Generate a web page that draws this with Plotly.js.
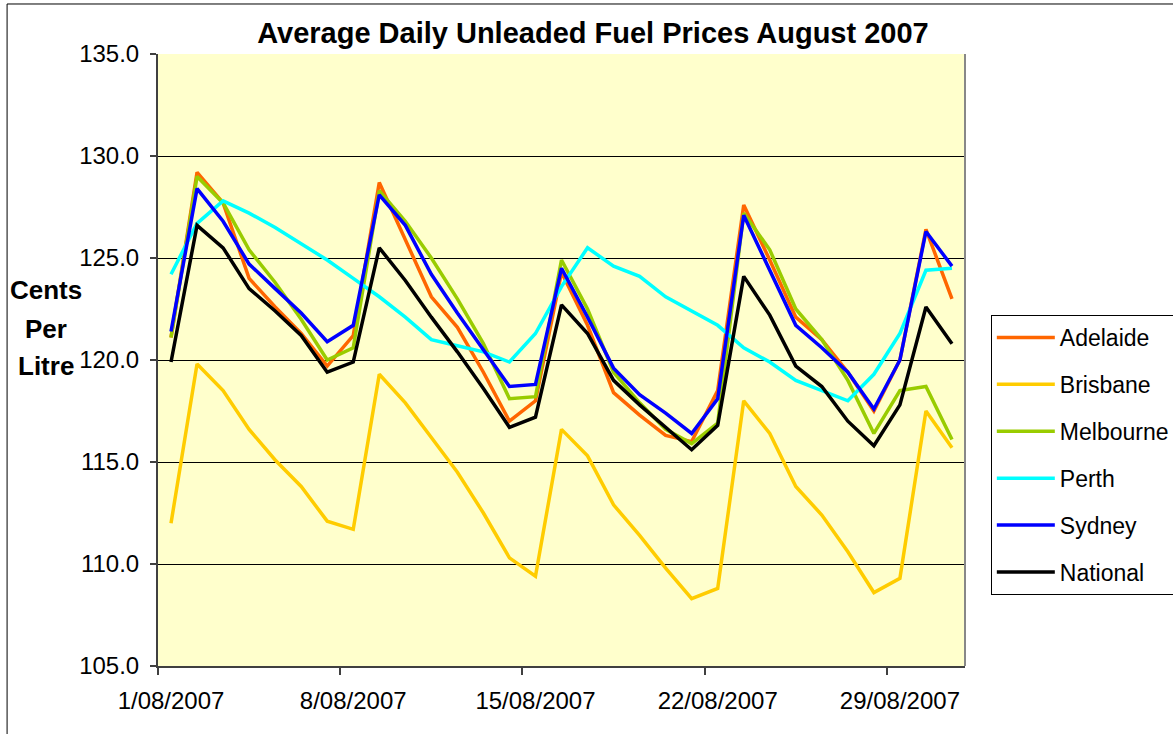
<!DOCTYPE html>
<html>
<head>
<meta charset="utf-8">
<script src="https://cdn.plot.ly/plotly-3.0.1.min.js"></script>
<style>
html,body{margin:0;padding:0;background:#fff;}
#chart{width:1173px;height:734px;}
</style>
</head>
<body>
<div id="chart"></div>
<script>
// Days of August 2007
var days = [1,2,3,4,5,6,7,8,9,10,11,12,13,14,15,16,17,18,19,20,21,22,23,24,25,26,27,28,29,30,31];
var tickDays = [1,8,15,22,29];
var tickLabels = ["1/08/2007","8/08/2007","15/08/2007","22/08/2007","29/08/2007"];
var tickBoundaries = [0.5,7.5,14.5,21.5,28.5];

var adelaide  = [121.1,129.2,127.7,124.0,122.6,121.3,119.7,121.2,128.7,125.9,123.1,121.6,119.4,117.0,118.0,124.3,121.7,118.4,117.3,116.3,116.0,118.5,127.6,124.9,122.1,121.0,119.4,117.5,120.0,126.4,123.0];
var brisbane  = [112.0,119.8,118.5,116.6,115.1,113.8,112.1,111.7,119.3,117.9,116.2,114.5,112.5,110.3,109.4,116.6,115.3,112.9,111.4,109.8,108.3,108.8,118.0,116.4,113.8,112.4,110.6,108.6,109.3,117.5,115.7];
var melbourne = [121.1,129.0,127.7,125.4,123.8,122.0,120.0,120.6,128.3,126.8,125.0,123.0,120.8,118.1,118.2,124.9,122.5,119.4,117.9,116.6,115.9,116.9,127.2,125.4,122.5,121.0,119.0,116.4,118.5,118.7,116.1];
var perth     = [124.2,126.7,127.8,127.2,126.5,125.7,124.9,124.0,123.1,122.1,121.0,120.7,120.4,119.9,121.3,123.6,125.5,124.6,124.1,123.1,122.4,121.7,120.6,119.9,119.0,118.5,118.0,119.3,121.3,124.4,124.5];
var sydney    = [121.4,128.4,126.8,124.7,123.5,122.3,120.9,121.7,128.1,126.6,124.2,122.3,120.5,118.7,118.8,124.5,122.1,119.6,118.3,117.4,116.4,118.1,127.1,124.4,121.7,120.6,119.4,117.6,120.0,126.3,124.6];
var national  = [119.9,126.6,125.5,123.5,122.4,121.2,119.4,119.9,125.5,123.9,122.1,120.4,118.6,116.7,117.2,122.7,121.3,119.0,117.8,116.7,115.6,116.8,124.1,122.2,119.7,118.7,117.0,115.8,117.8,122.6,120.8];

var seriesNames = ["Adelaide","Brisbane","Melbourne","Perth","Sydney","National"];
var seriesData = [adelaide,brisbane,melbourne,perth,sydney,national];
var seriesColors = ["#FF6600","#FFCC00","#99CC00","#00FFFF","#0000FF","#000000"];
var yTitleLines = ["Cents","Per","Litre"];

var FONT = "'Liberation Sans', Arial, sans-serif";

var traces = seriesNames.map(function(n,i){
  return {
    x: days, y: seriesData[i], name: n, type: 'scatter', mode: 'lines',
    line: {color: seriesColors[i], width: 3.5},
    legendgroup: 'g'+i,
    hoverinfo: 'x+y+name'
  };
});

var yTitleY = [0.6144, 0.5507, 0.4902];
var annotations = yTitleLines.map(function(t,i){
  return {
    xref: 'paper', yref: 'paper', x: -0.1385, y: yTitleY[i], xanchor: 'center', yanchor: 'middle',
    text: '<b>'+t+'</b>', showarrow: false, align: 'center',
    font: {family: FONT, size: 26, color: '#000'}
  };
});

var layout = {
  width: 1173, height: 734,
  margin: {l:158, r:208, t:54, b:68, pad:0, autoexpand:false},
  paper_bgcolor: '#FFFFFF',
  plot_bgcolor: '#FFFFCC',
  font: {family: FONT, size: 24, color: '#000'},
  title: {text: '<b>Average Daily Unleaded Fuel Prices August 2007</b>', font: {family: FONT, size: 29, color:'#000'}, x: 0.5055, xanchor:'center', y: 0.955, yanchor: 'middle'},
  showlegend: true,
  legend: {
    x: 1.032, xanchor: 'left', y: 0.5735, yanchor: 'top',
    bgcolor: '#FFFFFF', bordercolor: '#000000', borderwidth: 1,
    font: {family: FONT, size: 23, color: '#000'},
    tracegroupgap: 14,
    itemwidth: 58
  },
  xaxis: {
    range: [0.5, 31.5], tickmode: 'array', tickvals: tickDays, ticktext: tickLabels,
    ticks: '', showgrid: false, zeroline: false,
    showline: true, linecolor: '#404040', linewidth: 2,
    ticklabelstandoff: 12,
    tickfont: {family: FONT, size: 24, color:'#000'}, mirror: false
  },
  xaxis2: {
    overlaying: 'x', matches: 'x', range: [0.5, 31.5], tickmode: 'array', tickvals: tickBoundaries,
    ticks: 'outside', ticklen: 8, tickwidth: 1.5, tickcolor: '#404040',
    showticklabels: false, showgrid: false, zeroline: false, showline: false
  },
  yaxis: {
    range: [105, 135], tickmode: 'linear', tick0: 105, dtick: 5, tickformat: '.1f',
    ticks: 'outside', ticklen: 6, tickwidth: 1.5, tickcolor: '#404040',
    showgrid: true, gridcolor: '#000000', gridwidth: 1, zeroline: false,
    showline: true, linecolor: '#404040', linewidth: 2,
    ticklabelstandoff: 6,
    tickfont: {family: FONT, size: 24, color:'#000'}
  },
  annotations: annotations,
  shapes: [
    {type:'line', xref:'paper', yref:'paper', x0:1, x1:1, y0:0, y1:1, line:{color:'#888888', width:2}},
    {type:'rect', xref:'paper', yref:'paper', x0:-0.187, x1:1.3, y0:-0.2, y1:1.0817, line:{color:'#000000', width:1}}
  ]
};

// invisible trace to attach the boundary-tick axis
traces.push({x:[days[0]], y:[adelaide[0]], xaxis:'x2', yaxis:'y', mode:'markers', marker:{opacity:0}, showlegend:false, hoverinfo:'skip'});

Plotly.newPlot('chart', traces, layout, {displayModeBar:false, responsive:false});
</script>
</body>
</html>
